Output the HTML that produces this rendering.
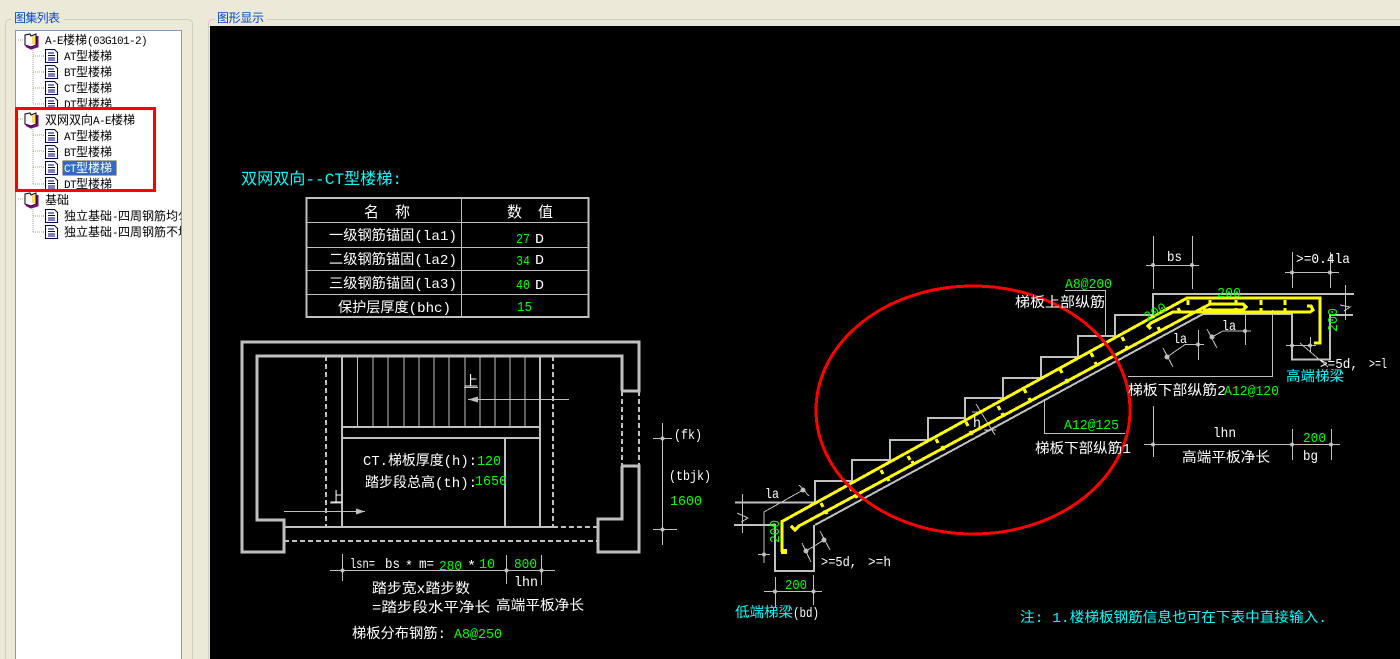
<!DOCTYPE html>
<html><head><meta charset="utf-8"><style>
html,body{margin:0;padding:0;width:1400px;height:659px;overflow:hidden;background:#ece9d8}
svg{display:block}
text{font-family:"Liberation Mono","WenQuanYi Zen Hei","Noto Sans CJK SC",monospace;white-space:pre}
.t text{font-family:"WenQuanYi Zen Hei","Noto Sans CJK SC",sans-serif;font-size:12px;fill:#000}
.t tspan{font-family:"Liberation Mono",monospace;font-size:11px;letter-spacing:-.6px}
.w text,text.w{fill:#fff;font-size:14px}
.g text,text.g{fill:#0f0;font-size:14px}
.c{fill:#0ff;font-size:14px}
</style></head><body>
<svg width="1400" height="659" viewBox="0 0 1400 659" xmlns="http://www.w3.org/2000/svg">
<defs>
<g id="doc"><path d="M0.5 .5H9.5L12.5 3.500V13.500H.5Z" fill="#fff" stroke="#000050"/><path d="M3 4H9M3 6.500H10M3 9H10M3 11H10" stroke="#000080" fill="none"/></g>
<g id="book"><path d="M1 2 L6 1 L7 3 L12 1 V12 L7 14 L1 12Z" fill="#fff" stroke="#000"/><path d="M2 13 L7 15.500 L13.500 13.500 V3" fill="none" stroke="#800080" stroke-width="2"/><rect x="8" y="3" width="3" height="8" fill="#f4e060"/></g>
</defs>
<rect width="1400" height="659" fill="#ece9d8"/>
<rect x="5.500" y="19.500" width="187" height="660" rx="4" fill="none" stroke="#d0d0bf"/>
<rect x="208.500" y="19.500" width="1220" height="660" rx="4" fill="none" stroke="#d0d0bf"/>
<rect x="12" y="12" width="52" height="14" fill="#ece9d8"/>
<rect x="215" y="12" width="52" height="14" fill="#ece9d8"/>
<text x="14" y="22" textLength="46" style="font-size:12px;fill:#0046d5;font-family:'WenQuanYi Zen Hei','Noto Sans CJK SC',sans-serif">图集列表</text>
<text x="217" y="22" textLength="47" style="font-size:12px;fill:#0046d5;font-family:'WenQuanYi Zen Hei','Noto Sans CJK SC',sans-serif">图形显示</text>
<rect x="15.500" y="30.500" width="166" height="640" fill="#fff" stroke="#7f9db9"/>

<!-- tree -->
<g stroke="#a0a090" stroke-dasharray="1 1" fill="none" shape-rendering="crispEdges">
<path d="M18 40H24M33 46V104M33 56H44M33 72H44M33 88H44M33 104H44"/>
<path d="M18 119H24M33 125V184M33 135H44M33 151H44M33 167H44M33 184H44"/>
<path d="M18 199H24M33 205V232M33 216H44M33 232H44"/>
</g>
<g class="t">
<use href="#book" x="24" y="33"/>
<text x="45" y="44"><tspan>A-E</tspan>楼梯<tspan>(03G101-2)</tspan></text>
<use href="#doc" x="45" y="49"/><text x="64" y="60"><tspan>AT</tspan>型楼梯</text>
<use href="#doc" x="45" y="65"/><text x="64" y="76"><tspan>BT</tspan>型楼梯</text>
<use href="#doc" x="45" y="81"/><text x="64" y="92"><tspan>CT</tspan>型楼梯</text>
<use href="#doc" x="45" y="97"/><text x="64" y="108"><tspan>DT</tspan>型楼梯</text>
<rect x="16" y="108" width="160" height="5" fill="#fff"/>
<use href="#book" x="24" y="112"/>
<text x="45" y="124">双网双向<tspan>A-E</tspan>楼梯</text>
<use href="#doc" x="45" y="129"/><text x="64" y="140"><tspan>AT</tspan>型楼梯</text>
<use href="#doc" x="45" y="145"/><text x="64" y="156"><tspan>BT</tspan>型楼梯</text>
<use href="#doc" x="45" y="161"/>
<rect x="62.500" y="160.500" width="54" height="15" fill="#316ac5" stroke="#c8a040" stroke-dasharray="1 1"/>
<text x="64" y="172" style="fill:#fff"><tspan>CT</tspan>型楼梯</text>
<use href="#doc" x="45" y="177"/><text x="64" y="188"><tspan>DT</tspan>型楼梯</text>
<use href="#book" x="24" y="192"/>
<text x="45" y="204">基础</text>
<use href="#doc" x="45" y="209"/><text x="64" y="220">独立基础<tspan>-</tspan>四周钢筋均匀</text>
<use href="#doc" x="45" y="225"/><text x="64" y="236">独立基础<tspan>-</tspan>四周钢筋不均</text>
</g>
<rect x="182" y="205" width="10" height="35" fill="#ece9d8"/>
<rect x="181" y="30" width="1" height="629" fill="#7f9db9"/>
<rect x="16.500" y="108.500" width="138" height="82" fill="none" stroke="#f00" stroke-width="3" shape-rendering="crispEdges"/>

<!-- canvas -->
<rect x="210" y="26" width="1190" height="633" fill="#000"/>
<g fill="none" stroke="#c0c0c0" shape-rendering="crispEdges">
<!-- table -->
<rect x="306.500" y="198" width="282" height="119" stroke-width="2"/>
<path d="M306 222.500H589M306 247.500H589M306 270.500H589M306 294.500H589M461.500 198V317"/>
<!-- plan walls -->
<g stroke-width="3">
<path d="M622 391H639V342H242V552H284V520H257V356H622V391"/>
<path d="M622 466H639V552H598V519H622V466"/>
</g>
<g stroke-width="2">
<path d="M326 356V527M553 356V527M553 527H598M284 541H598M622 391V466M639 391V466" stroke-dasharray="5 3"/>
<path d="M342 356V527M540 356V527M284 527H553M342 427H540M342 438H540M505 438V527" />
</g>
<path d="M357.500 356V427M373 356V427M388 356V427M404 356V427M419 356V427M434 356V427M449 356V427M465 356V427M480 356V427M495 356V427M510 356V427M525 356V427"/>
<path d="M468 399.500H569M284 511.500H365M464 387.500H478M330 503H343"/>
<path d="M653 438.500H672M653 529.500H677M662.500 423V545M330 570.500H555M342.500 554V581M506.500 555V584M541.500 555V585"/>
<!-- section -->
<g stroke-width="2">
<path d="M735 502.500H815V481H852V460H890V440H928V418H965V398H1003V378H1041V357H1078V336H1115V315H1153V294H1354"/>
<path d="M815 525L1203 314H1292V359.500H1330V315H1353M734 525H775V571H814V525"/>
</g>
<!-- dims right -->
<path d="M1146 265.500H1199M1153.500 236V289M1192.500 236V289M1285 272.500H1339M1292.500 252V288M1330.500 252V288"/>
<path d="M1065 290.500H1105.500V336M1272.500 310V376.500H1128M1044.500 400V433.500H1125"/>
<path d="M1144 444.500H1340M1153.500 406V457M1292.500 429V460M1331.500 429V460"/>
<path d="M1167 357L1185 344.500H1204M1198.500 330V360M1163 348L1173 367M1212 337L1223 331H1251M1245.500 315V345M1207 329L1217 348"/>
<path d="M1286 345.500H1316M1310.500 337V352M1300 343L1328 367"/>
<path d="M1345.500 285V320M1340 305L1350 307L1344 311M976 404L995 435M972 412H984M984 430H996"/>
<!-- dims left -->
<path d="M803 490L764 512V563M758 554.500H770M799 485L809 496M742.500 494V533M737 513L748 518L741 522"/>
<path d="M806 551L824 540M802 543L811 562M820 531L830 550"/>
<path d="M764 591.500H822M775.500 577V607M813.500 575V605"/>
</g>
<g fill="#c0c0c0">
<path d="M468 399.500L478 396.500V402.500Z"/><path d="M365 511.500L356 508.500V514.500Z"/>
<circle cx="662.500" cy="438.500" r="2"/><circle cx="662.500" cy="529.500" r="2"/>
<circle cx="342.500" cy="570.500" r="2"/><circle cx="506.500" cy="570.500" r="2"/><circle cx="541.500" cy="570.500" r="2"/>
<circle cx="1153" cy="265" r="2"/><circle cx="1192" cy="265" r="2"/><circle cx="1292" cy="272.500" r="2"/><circle cx="1330" cy="272.500" r="2"/>
<circle cx="1167" cy="357" r="2.500"/><circle cx="1198" cy="344.500" r="2"/><circle cx="1212" cy="337" r="2.500"/><circle cx="1245" cy="331" r="2"/>
<circle cx="1292" cy="345.500" r="2"/><circle cx="1310" cy="345.500" r="2"/>
<circle cx="1153" cy="444.500" r="2"/><circle cx="1292" cy="444.500" r="2"/><circle cx="1331" cy="444.500" r="2"/>
<circle cx="803" cy="490" r="2.500"/><circle cx="764" cy="554.500" r="2"/><circle cx="806" cy="551" r="2.500"/><circle cx="824" cy="540" r="2.500"/>
<circle cx="775" cy="591.500" r="2"/><circle cx="813.500" cy="591.500" r="2"/>
</g>
<!-- rebar -->
<g fill="none" stroke="#ff0" stroke-width="3" shape-rendering="crispEdges">
<path d="M782 552V521.500L1187 298H1320V343H1314"/>
<path d="M791 526L795 530L799 526L1210 304H1243L1246 307L1243 310H1203"/>
<path d="M1151 329L1148 326L1151 323L1173 312H1310L1313 310L1311 306H1307"/>
</g>
<rect x="781" y="549" width="6" height="5" fill="#ff0"/>
<g stroke="#ff0" stroke-width="3" fill="none" shape-rendering="crispEdges">
<path d="M881 470l2 4M908 456l2 4M936 439l2 4M966 422l2 4M998 406l2 4M1024 389l2 4M1060 369l2 4M1091 353l2 4M1122 337l2 4M821 503l2 4M850 487l2 4"/>
<path d="M887 477l2 4M912 461l2 4M942 446l2 4M970 431l2 4M1002 413l2 4M1029 398l2 4M1066 379l2 4M1095 362l2 4M1126 346l2 4M825 510l2 4M855 494l2 4M1158 327l2 4M1178 308l2 4"/>
<path d="M1188 300v5M1210 300v5M1236 300v5M1261 300v5M1285 300v5M1210 308v4M1236 308v4M1261 308v4M1285 308v4"/>
</g>
<ellipse cx="973" cy="410" rx="157" ry="124" fill="none" stroke="#f00" stroke-width="3" shape-rendering="crispEdges"/>

<!-- texts -->
<text class="c" x="241" y="184" textLength="161" lengthAdjust="spacingAndGlyphs" style="font-size:16px">双网双向--CT型楼梯:</text>
<g class="w">
<text x="364" y="217" style="font-size:15px">名</text><text x="395" y="217" style="font-size:15px">称</text>
<text x="507" y="217" style="font-size:15px">数</text><text x="538" y="217" style="font-size:15px">值</text>
<text x="329" y="240" textLength="128" lengthAdjust="spacingAndGlyphs">一级钢筋锚固(la1)</text>
<text x="329" y="264" textLength="128" lengthAdjust="spacingAndGlyphs">二级钢筋锚固(la2)</text>
<text x="329" y="288" textLength="128" lengthAdjust="spacingAndGlyphs">三级钢筋锚固(la3)</text>
<text x="338" y="312" textLength="113" lengthAdjust="spacingAndGlyphs">保护层厚度(bhc)</text>
<text x="535" y="243" textLength="9" lengthAdjust="spacingAndGlyphs">D</text><text x="535" y="264" textLength="9" lengthAdjust="spacingAndGlyphs">D</text><text x="535" y="289" textLength="9" lengthAdjust="spacingAndGlyphs">D</text>
<text x="464" y="386" textLength="14" lengthAdjust="spacingAndGlyphs">上</text>
<text x="330" y="502" textLength="13" lengthAdjust="spacingAndGlyphs">上</text>
<text x="363" y="465" textLength="114" lengthAdjust="spacingAndGlyphs">CT.梯板厚度(h):</text>
<text x="365" y="487" textLength="112" lengthAdjust="spacingAndGlyphs">踏步段总高(th):</text>
<text x="674" y="439" textLength="28" lengthAdjust="spacingAndGlyphs">(fk)</text>
<text x="669" y="480" textLength="42" lengthAdjust="spacingAndGlyphs">(tbjk)</text>
<text x="350" y="568" textLength="25" lengthAdjust="spacingAndGlyphs">lsn=</text>
<text x="385" y="568" textLength="15" lengthAdjust="spacingAndGlyphs">bs</text>
<text x="405" y="570" textLength="8" lengthAdjust="spacingAndGlyphs">*</text>
<text x="419" y="568" textLength="15" lengthAdjust="spacingAndGlyphs">m=</text>
<text x="467" y="570" textLength="9" lengthAdjust="spacingAndGlyphs">*</text>
<text x="514" y="586" textLength="24" lengthAdjust="spacingAndGlyphs">lhn</text>
<text x="372" y="593" textLength="98" lengthAdjust="spacingAndGlyphs">踏步宽x踏步数</text>
<text x="372" y="612" textLength="118" lengthAdjust="spacingAndGlyphs">=踏步段水平净长</text>
<text x="496" y="610" textLength="88" lengthAdjust="spacingAndGlyphs">高端平板净长</text>
<text x="352" y="638" textLength="94" lengthAdjust="spacingAndGlyphs">梯板分布钢筋:</text>
<text x="1167" y="261" textLength="15" lengthAdjust="spacingAndGlyphs">bs</text>
<text x="1296" y="263" textLength="54" lengthAdjust="spacingAndGlyphs">&gt;=0.4la</text>
<text x="1015" y="307" textLength="90" lengthAdjust="spacingAndGlyphs">梯板上部纵筋</text>
<text x="1173" y="343" textLength="14" lengthAdjust="spacingAndGlyphs">la</text>
<text x="1222" y="330" textLength="14" lengthAdjust="spacingAndGlyphs">la</text>
<text x="1320" y="368" textLength="38" lengthAdjust="spacingAndGlyphs">&gt;=5d,</text>
<text x="1369" y="368" textLength="18" lengthAdjust="spacingAndGlyphs">&gt;=l</text>
<text x="1128" y="395" textLength="98" lengthAdjust="spacingAndGlyphs">梯板下部纵筋2</text>
<text x="1035" y="453" textLength="96" lengthAdjust="spacingAndGlyphs">梯板下部纵筋1</text>
<text x="1213" y="437" textLength="23" lengthAdjust="spacingAndGlyphs">lhn</text>
<text x="1303" y="460" textLength="15" lengthAdjust="spacingAndGlyphs">bg</text>
<text x="1182" y="462" textLength="88" lengthAdjust="spacingAndGlyphs">高端平板净长</text>
<text x="973" y="427" textLength="8" lengthAdjust="spacingAndGlyphs">h</text>
<text x="765" y="498" textLength="14" lengthAdjust="spacingAndGlyphs">la</text>
<text x="821" y="566" textLength="36" lengthAdjust="spacingAndGlyphs">&gt;=5d,</text>
<text x="868" y="566" textLength="23" lengthAdjust="spacingAndGlyphs">&gt;=h</text>
<text x="793" y="617" textLength="26" lengthAdjust="spacingAndGlyphs">(bd)</text>
</g>
<g class="g">
<text x="516" y="243" textLength="14" lengthAdjust="spacingAndGlyphs">27</text><text x="516" y="265" textLength="14" lengthAdjust="spacingAndGlyphs">34</text><text x="516" y="289" textLength="14" lengthAdjust="spacingAndGlyphs">40</text><text x="517" y="311" textLength="15" lengthAdjust="spacingAndGlyphs">15</text>
<text x="477" y="465" textLength="24" lengthAdjust="spacingAndGlyphs">120</text><text x="475" y="485" textLength="32" lengthAdjust="spacingAndGlyphs">1650</text>
<text x="670" y="505" textLength="32" lengthAdjust="spacingAndGlyphs">1600</text>
<text x="439" y="570" textLength="23" lengthAdjust="spacingAndGlyphs">280</text><text x="479" y="568" textLength="16" lengthAdjust="spacingAndGlyphs">10</text><text x="514" y="568" textLength="23" lengthAdjust="spacingAndGlyphs">800</text>
<text x="454" y="638" textLength="48" lengthAdjust="spacingAndGlyphs">A8@250</text>
<text x="1065" y="288" textLength="47" lengthAdjust="spacingAndGlyphs">A8@200</text>
<text x="1217" y="297" textLength="24" lengthAdjust="spacingAndGlyphs">200</text>
<text transform="translate(1147,322) rotate(-30)" textLength="24" lengthAdjust="spacingAndGlyphs">200</text>
<text transform="translate(1337,332) rotate(-90)" textLength="24" lengthAdjust="spacingAndGlyphs">200</text>
<text transform="translate(779,543) rotate(-90)" textLength="23" lengthAdjust="spacingAndGlyphs">200</text>
<text x="1224" y="395" textLength="55" lengthAdjust="spacingAndGlyphs">A12@120</text>
<text x="1064" y="429" textLength="55" lengthAdjust="spacingAndGlyphs">A12@125</text>
<text x="1303" y="442" textLength="23" lengthAdjust="spacingAndGlyphs">200</text>
<text x="785" y="589" textLength="22" lengthAdjust="spacingAndGlyphs">200</text>
</g>
<text class="c" x="1286" y="381" textLength="58" lengthAdjust="spacingAndGlyphs">高端梯梁</text>
<text class="c" x="735" y="617" textLength="58" lengthAdjust="spacingAndGlyphs">低端梯梁</text>
<text class="c" x="1020" y="622" textLength="307" lengthAdjust="spacingAndGlyphs">注: 1.楼梯板钢筋信息也可在下表中直接输入.</text>
</svg>
</body></html>
